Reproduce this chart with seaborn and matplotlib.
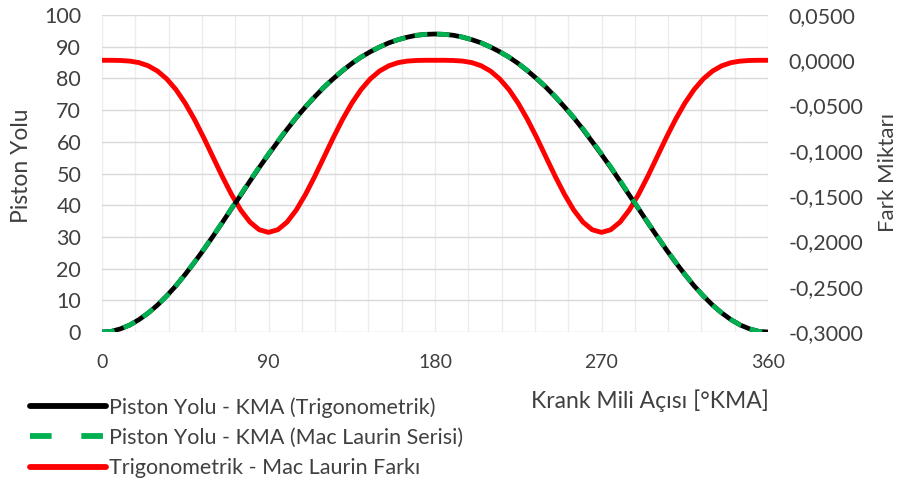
import matplotlib
matplotlib.use("Agg")
import matplotlib.pyplot as plt
import seaborn as sns
import pandas as pd
from matplotlib.ticker import MultipleLocator, FixedLocator
from matplotlib.lines import Line2D

# ---- data ----
angle = [0, 5, 10, 15, 20, 25, 30, 35, 40, 45, 50, 55, 60, 65, 70, 75, 80, 85, 90,
         95, 100, 105, 110, 115, 120, 125, 130, 135, 140, 145, 150, 155, 160, 165, 170, 175, 180,
         185, 190, 195, 200, 205, 210, 215, 220, 225, 230, 235, 240, 245, 250, 255, 260, 265, 270,
         275, 280, 285, 290, 295, 300, 305, 310, 315, 320, 325, 330, 335, 340, 345, 350, 355, 360]

piston_trig = [0.0, 0.2, 1.0, 2.2, 3.9, 6.0, 8.5, 11.4, 14.6, 18.2, 22.0, 26.0, 30.2, 34.5, 38.9, 43.2, 47.6, 51.9, 56.0,
               60.0, 63.9, 67.6, 71.0, 74.2, 77.2, 79.9, 82.4, 84.7, 86.7, 88.4, 89.9, 91.2, 92.2, 93.0, 93.6, 93.9, 94.0,
               93.9, 93.6, 93.0, 92.2, 91.2, 89.9, 88.4, 86.7, 84.7, 82.4, 79.9, 77.2, 74.2, 71.0, 67.6, 63.9, 60.0, 56.0,
               51.9, 47.6, 43.2, 38.9, 34.5, 30.2, 26.0, 22.0, 18.2, 14.6, 11.4, 8.5, 6.0, 3.9, 2.2, 1.0, 0.2, 0.0]

piston_mac = [0.0, 0.2, 1.0, 2.2, 3.9, 6.0, 8.5, 11.4, 14.6, 18.2, 22.1, 26.1, 30.3, 34.6, 39.0, 43.4, 47.8, 52.1, 56.2,
              60.2, 64.1, 67.7, 71.1, 74.3, 77.3, 80.0, 82.5, 84.7, 86.7, 88.4, 89.9, 91.2, 92.2, 93.0, 93.6, 93.9, 94.0,
              93.9, 93.6, 93.0, 92.2, 91.2, 89.9, 88.4, 86.7, 84.7, 82.5, 80.0, 77.3, 74.3, 71.1, 67.7, 64.1, 60.2, 56.2,
              52.1, 47.8, 43.4, 39.0, 34.6, 30.3, 26.1, 22.1, 18.2, 14.6, 11.4, 8.5, 6.0, 3.9, 2.2, 1.0, 0.2, 0.0]

fark = [0.0, 0.0, -0.0002, -0.0009, -0.0026, -0.0061, -0.0119, -0.0206, -0.0324, -0.0475, -0.0654, -0.0855, -0.1069,
        -0.1282, -0.1481, -0.1654, -0.1787, -0.1871, -0.1900,
        -0.1871, -0.1787, -0.1654, -0.1481, -0.1282, -0.1069, -0.0855, -0.0654, -0.0475, -0.0324, -0.0206, -0.0119,
        -0.0061, -0.0026, -0.0009, -0.0002, 0.0, 0.0,
        0.0, -0.0002, -0.0009, -0.0026, -0.0061, -0.0119, -0.0206, -0.0324, -0.0475, -0.0654, -0.0855, -0.1069,
        -0.1282, -0.1481, -0.1654, -0.1787, -0.1871, -0.1900,
        -0.1871, -0.1787, -0.1654, -0.1481, -0.1282, -0.1069, -0.0855, -0.0654, -0.0475, -0.0324, -0.0206, -0.0119,
        -0.0061, -0.0026, -0.0009, -0.0002, 0.0, 0.0]

x_ticks = [0, 90, 180, 270, 360]
left_ticks = [0, 10, 20, 30, 40, 50, 60, 70, 80, 90, 100]
right_ticks = [-0.30, -0.25, -0.20, -0.15, -0.10, -0.05, 0.0, 0.05]
right_labels = ["-0,3000", "-0,2500", "-0,2000", "-0,1500", "-0,1000", "-0,0500", "0,0000", "0,0500"]

label_trig = "Piston Yolu - KMA (Trigonometrik)"
label_mac = "Piston Yolu - KMA (Mac Laurin Serisi)"
label_fark = "Trigonometrik - Mac Laurin Farkı"

df = pd.DataFrame({"angle": angle, "trig": piston_trig, "mac": piston_mac, "fark": fark})

# ---- style ----
sns.set_theme(style="white")
plt.rcParams["font.family"] = ["Lato", "DejaVu Sans"]
text_color = "#404040"
GREEN = "#00B050"
RED = "#FF0000"

fig = plt.figure(figsize=(9, 4.8), dpi=100)
rect = [102 / 900, 1 - 332 / 480, 666 / 900, 317 / 480]
ax = fig.add_axes(rect)          # grid + left axis
ax2 = ax.twinx()                 # right axis (difference)
ax3 = fig.add_axes(rect, sharex=ax, sharey=ax)  # top layer for piston curves
ax3.patch.set_visible(False)
ax3.axis("off")

# difference curve on right axis
sns.lineplot(data=df, x="angle", y="fark", ax=ax2, color=RED, linewidth=3.5, legend=False)
# piston curves on top layer
sns.lineplot(data=df, x="angle", y="trig", ax=ax3, color="black", linewidth=3.4, legend=False)
sns.lineplot(data=df, x="angle", y="mac", ax=ax3, color=GREEN, linewidth=3.4, legend=False,
             linestyle=(0, (2.7, 2.0)))

ax.set_xlim(0, 360)
ax.set_ylim(0, 100)
ax2.set_ylim(-0.30, 0.05)

ax.xaxis.set_major_locator(FixedLocator(x_ticks))
ax.xaxis.set_minor_locator(MultipleLocator(18))
ax.yaxis.set_major_locator(FixedLocator(left_ticks))
ax.set_xticklabels([str(v) for v in x_ticks])
ax.set_yticklabels([str(v) for v in left_ticks])
ax2.yaxis.set_major_locator(FixedLocator(right_ticks))
ax2.set_yticklabels(right_labels)

ax.grid(which="major", axis="y", color="#d9d9d9", linewidth=1.0)
ax.grid(which="minor", axis="x", color="#ececec", linewidth=1.0)
ax.grid(which="major", axis="x", color="#ececec", linewidth=1.0)
ax.set_axisbelow(True)

for a in (ax, ax2):
    for s in a.spines.values():
        s.set_visible(False)

ax.tick_params(axis="y", length=0, pad=15, labelsize=15.5, labelcolor=text_color)
ax.tick_params(axis="x", which="both", length=0, pad=16, labelsize=14, labelcolor=text_color)
ax2.tick_params(axis="y", length=0, pad=15, labelsize=15.5, labelcolor=text_color)

ax.set_xlabel("Krank Mili Açısı [°KMA]", fontsize=16.5, color=text_color)
ax.xaxis.set_label_coords((650 - 102) / 666, (332 - 401) / 317)
ax.xaxis.label.set_va("center")
ax.set_ylabel("Piston Yolu", fontsize=16.5, color=text_color)
ax.yaxis.set_label_coords((22 - 102) / 666, (332 - 166) / 317)
ax.yaxis.label.set_va("center")
ax2.set_ylabel("Fark Miktarı", fontsize=16, color=text_color)
ax2.yaxis.set_label_coords((888 - 102) / 666, (332 - 172) / 317)
ax2.yaxis.label.set_va("center")

handles = [Line2D([], [], color="black", linewidth=4.2),
           Line2D([], [], color=GREEN, linewidth=4.2, linestyle=(0, (3.7, 5.1))),
           Line2D([], [], color=RED, linewidth=4.2)]
fig.legend(handles, [label_trig, label_mac, label_fark], loc="upper left",
           bbox_to_anchor=(30 / 900, 1 - 397 / 480), frameon=False, fontsize=15.5,
           handlelength=3.55, handletextpad=0.12, labelspacing=0.48,
           borderpad=0, borderaxespad=0, labelcolor=text_color)

fig.savefig("out.png", dpi=100)
